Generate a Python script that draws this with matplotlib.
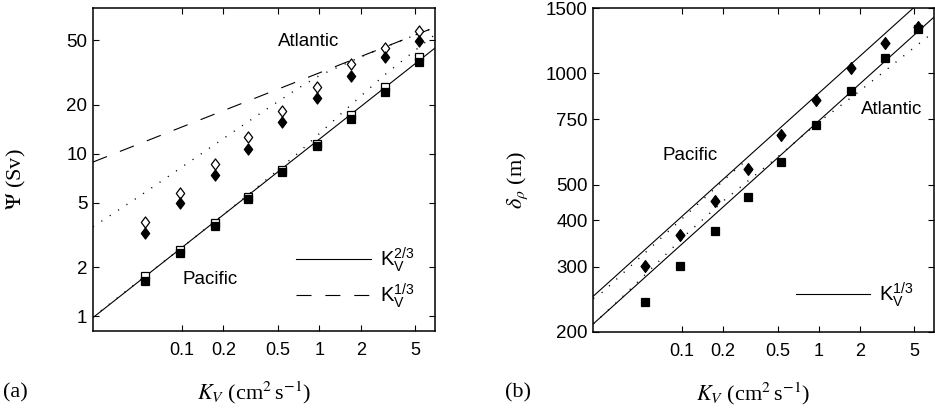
import numpy as np
import matplotlib
matplotlib.use('Agg')
import matplotlib.pyplot as plt
from matplotlib.path import Path
from matplotlib.lines import Line2D
from matplotlib.ticker import FixedLocator, NullLocator, FixedFormatter

# ---------------- data ----------------
K_V = [0.054, 0.097, 0.173, 0.303, 0.533, 0.96, 1.71, 3.02, 5.33]

# panel (a): overturning Psi (Sv)
psi_atl_open = [3.79, 5.77, 8.59, 12.6, 18.4, 25.9, 35.8, 44.9, 57.4]
psi_atl_fill = [3.24, 4.96, 7.42, 10.7, 15.6, 21.9, 30.2, 39.3, 49.6]
psi_pac_open = [1.77, 2.56, 3.77, 5.45, 7.89, 11.5, 17.3, 25.6, 39.5]
psi_pac_fill = [1.65, 2.46, 3.61, 5.25, 7.67, 11.1, 16.4, 23.9, 36.8]

# scaling laws (value at K_V = 1, exponent)
psi_k23 = (12.3, 2 / 3)
psi_k13 = (31.5, 1 / 3)

# dotted model curves, panel (a)
dot_a_atl_K = [0.0225, 0.05, 0.1, 0.2, 0.4, 0.7, 1.0, 2.0, 4.0, 7.0]
dot_a_atl = [3.55, 5.54, 8.29, 12.4, 18.5, 25.3, 30.3, 39.5, 50.0, 60.2]
dot_a_pac_K = [0.0225, 0.1, 0.3, 0.7, 1.5, 3.0, 7.0]
dot_a_pac = [0.99, 2.65, 5.55, 10.1, 18.2, 30.7, 54.5]

# panel (b): delta_rho (m)
delta_pac = [301.6, 365, 450, 552, 681, 847, 1034, 1206, 1337]
delta_atl = [241, 301, 375, 463, 577, 725, 898, 1099, 1316]
delta_pac_k13 = (884, 1 / 3)
delta_atl_k13 = (744, 1 / 3)

dot_b_pac_K = [0.0225, 0.0263, 0.05, 0.1, 0.2, 0.3]
dot_b_pac = [246, 256, 319, 404, 512, 585]
dot_b_atl_K = [0.0225, 0.0348, 0.11, 0.205, 0.5, 1.0, 1.865, 4.0, 7.0]
dot_b_atl = [210, 243.8, 369.5, 454.6, 594, 738, 879, 1101, 1299]

x_ticks = [0.1, 0.2, 0.5, 1, 2, 5]
x_ticklabels = ['0.1', '0.2', '0.5', '1', '2', '5']
ya_ticks = [1, 2, 5, 10, 20, 50]
ya_ticklabels = ['1', '2', '5', '10', '20', '50']
yb_ticks = [200, 300, 400, 500, 750, 1000, 1500]
yb_ticklabels = ['200', '300', '400', '500', '750', '1000', '1500']

XLIM = (0.0225, 6.95)

# ---------------- style ----------------
plt.rcParams['font.family'] = ['Liberation Sans', 'DejaVu Sans']
plt.rcParams['mathtext.fontset'] = 'stix'
plt.rcParams['lines.scale_dashes'] = False

SERIF = ['Liberation Serif', 'DejaVu Serif']
DASH = (10.8, 10.0)
DOT = (0.8, 6.4)

diamond = Path([(0, 1), (0.75, 0), (0, -1), (-0.75, 0), (0, 1)],
               [Path.MOVETO, Path.LINETO, Path.LINETO, Path.LINETO, Path.CLOSEPOLY])

fig = plt.figure(figsize=(9.35, 4.11), dpi=100)
axa = fig.add_axes([0.0995, 0.1946, 0.3658, 0.786])
axb = fig.add_axes([0.6346, 0.193, 0.3644, 0.787])

K_line = np.logspace(np.log10(XLIM[0]), np.log10(XLIM[1]), 100)


def power(coef_exp):
    c, e = coef_exp
    return c * K_line ** e


def style_axes(ax, yticks, ylabels, ylim):
    ax.set_xscale('log')
    ax.set_yscale('log')
    ax.set_xlim(*XLIM)
    ax.set_ylim(*ylim)
    ax.xaxis.set_major_locator(FixedLocator(x_ticks))
    ax.xaxis.set_major_formatter(FixedFormatter(x_ticklabels))
    ax.xaxis.set_minor_locator(NullLocator())
    ax.yaxis.set_major_locator(FixedLocator(yticks))
    ax.yaxis.set_major_formatter(FixedFormatter(ylabels))
    ax.yaxis.set_minor_locator(NullLocator())
    ax.tick_params(which='both', direction='in', top=True, right=True,
                   length=4, width=0.8)
    ax.tick_params(axis='x', labelsize=13, pad=8)
    ax.tick_params(axis='y', labelsize=13.5, pad=4)
    for s in ax.spines.values():
        s.set_linewidth(1.1)


# ---------------- panel (a) ----------------
axa.plot(K_line, power(psi_k23), color='k', lw=0.8)
axa.plot(K_line, power(psi_k13), color='k', lw=0.8, dashes=DASH)
axa.plot(dot_a_atl_K, dot_a_atl, color='k', lw=1.0, dashes=DOT)
axa.plot(dot_a_pac_K, dot_a_pac, color='k', lw=1.0, dashes=DOT)

axa.plot(K_V, psi_atl_open, ls='none', marker=diamond, ms=8, mfc='white', mec='k', mew=0.9)
axa.plot(K_V, psi_atl_fill, ls='none', marker=diamond, ms=8, mfc='k', mec='k', mew=0.9)
axa.plot(K_V, psi_pac_open, ls='none', marker='s', ms=5.6, mfc='white', mec='k', mew=0.9)
axa.plot(K_V, psi_pac_fill, ls='none', marker='s', ms=5.6, mfc='k', mec='k', mew=0.9)

style_axes(axa, ya_ticks, ya_ticklabels, (0.81, 79))

axa.text(0.84, 49, 'Atlantic', fontsize=13.5, ha='center', va='center')
axa.text(0.161, 1.67, 'Pacific', fontsize=13.5, ha='center', va='center')

h_a = [Line2D([], [], color='k', lw=0.8),
       Line2D([], [], color='k', lw=0.8, dashes=DASH)]
axa.legend(h_a, [r'$\mathregular{K_V^{2/3}}$', r'$\mathregular{K_V^{1/3}}$'],
           loc='lower right', bbox_to_anchor=(0.94, 0.065), frameon=False,
           fontsize=14.5, handlelength=3.7, handletextpad=0.45,
           labelspacing=0.35, borderpad=0, borderaxespad=0)

axa.set_ylabel(r'$\Psi$ (Sv)', fontsize=16, family=SERIF)
axa.yaxis.set_label_coords(-0.19, 0.47)
axa.set_xlabel(r'$K_V$ (cm$^2\,$s$^{-1}$)', fontsize=16, family=SERIF)
axa.xaxis.set_label_coords(0.47, -0.15)

# ---------------- panel (b) ----------------
axb.plot(K_line, power(delta_pac_k13), color='k', lw=0.8)
axb.plot(K_line, power(delta_atl_k13), color='k', lw=0.8)
axb.plot(dot_b_pac_K, dot_b_pac, color='k', lw=1.0, dashes=DOT)
axb.plot(dot_b_atl_K, dot_b_atl, color='k', lw=1.0, dashes=DOT)

axb.plot(K_V, delta_pac, ls='none', marker=diamond, ms=8.5, mfc='k', mec='k', mew=0.9)
axb.plot(K_V, delta_atl, ls='none', marker='s', ms=5.8, mfc='k', mec='k', mew=0.9)

style_axes(axb, yb_ticks, yb_ticklabels, (200, 1500))

axb.text(0.114, 599, 'Pacific', fontsize=13.5, ha='center', va='center')
axb.text(3.42, 800, 'Atlantic', fontsize=13.5, ha='center', va='center')

h_b = [Line2D([], [], color='k', lw=0.8)]
axb.legend(h_b, [r'$\mathregular{K_V^{1/3}}$'],
           loc='lower right', bbox_to_anchor=(0.94, 0.07), frameon=False,
           fontsize=14.5, handlelength=3.7, handletextpad=0.45,
           borderpad=0, borderaxespad=0)

axb.set_ylabel(r'$\delta_\rho$ (m)', fontsize=16, family=SERIF)
axb.yaxis.set_label_coords(-0.186, 0.47)
axb.set_xlabel(r'$K_V$ (cm$^2\,$s$^{-1}$)', fontsize=16, family=SERIF)
axb.xaxis.set_label_coords(0.47, -0.15)

fig.text(0.003, 0.044, '(a)', fontsize=16, family=SERIF, ha='left', va='center')
fig.text(0.540, 0.044, '(b)', fontsize=16, family=SERIF, ha='left', va='center')

fig.savefig('out.png', dpi=100)
